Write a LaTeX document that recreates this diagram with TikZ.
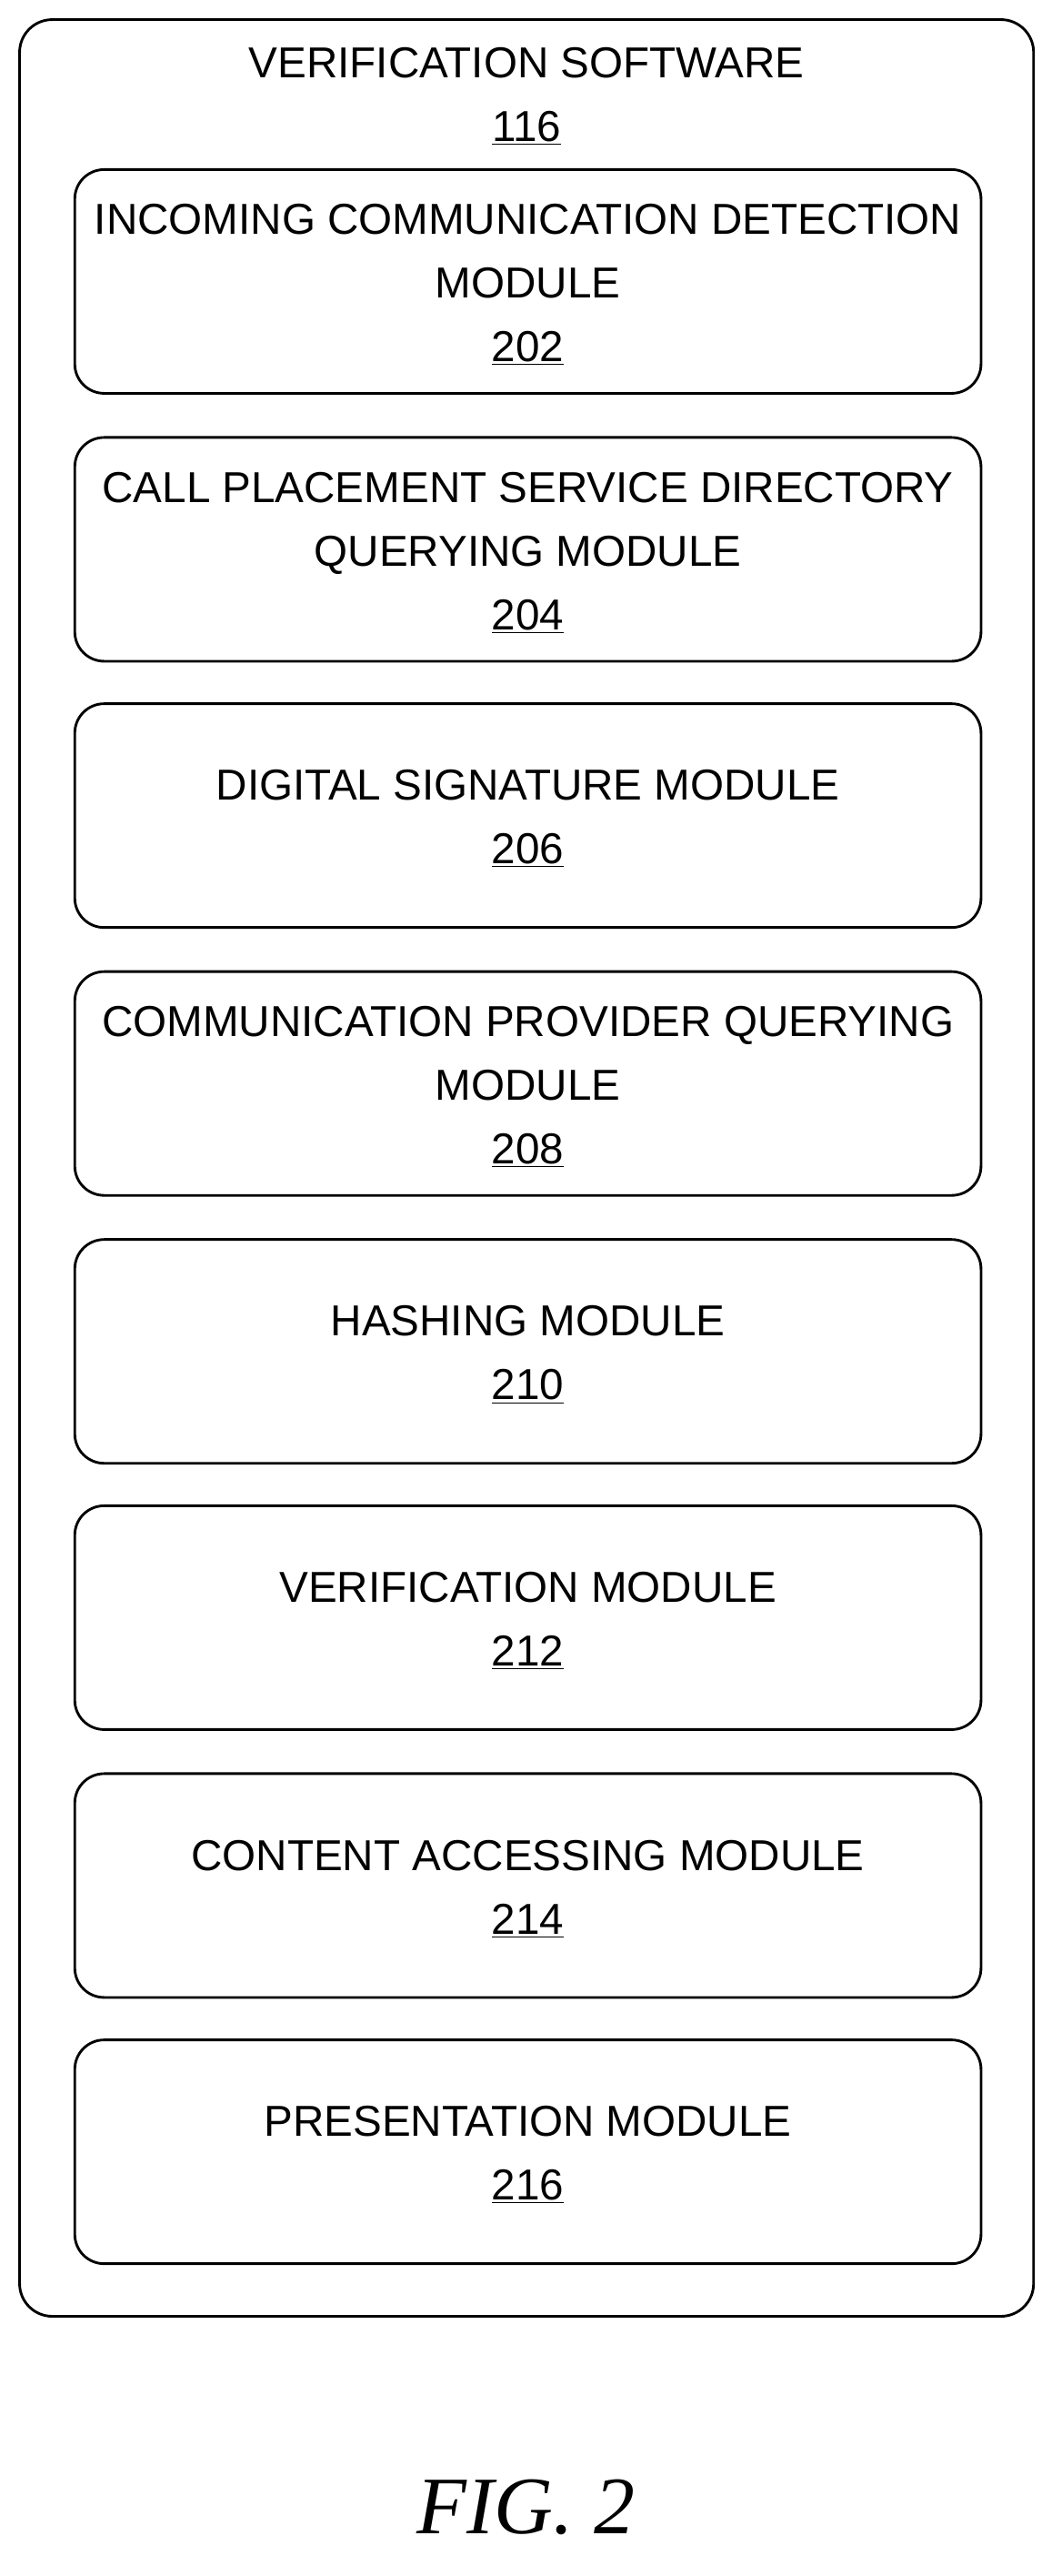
\documentclass[tikz,border=0pt]{standalone}
\usepackage{fontspec}
\setmainfont{Liberation Sans}
\newfontfamily\figfont{Liberation Serif}
\begin{document}
\begin{tikzpicture}[x=1pt,y=-1pt,
  modbox/.style={draw,line width=1.6pt,rounded corners=18pt,minimum width=555pt,minimum height=137pt,anchor=north west,inner sep=0pt},
  lbl/.style={font=\fontsize{26.5}{39}\selectfont,align=center}]
\useasboundingbox (0,0) rectangle (650,1577);
\draw[line width=1.6pt,rounded corners=20pt] (12,12) rectangle (633,1418);
\node[lbl] (title) at (322.5,59) {VERIFICATION SOFTWARE\\\underline{116}};
\foreach \i/\y/\t in {1/103/{INCOMING COMMUNICATION DETECTION\\MODULE\\\underline{202}},
  2/267/{CALL PLACEMENT SERVICE DIRECTORY\\QUERYING MODULE\\\underline{204}},
  3/430/{DIGITAL SIGNATURE MODULE\\\underline{206}},
  4/594/{COMMUNICATION PROVIDER QUERYING\\MODULE\\\underline{208}},
  5/758/{HASHING MODULE\\\underline{210}},
  6/921/{VERIFICATION MODULE\\\underline{212}},
  7/1085/{CONTENT ACCESSING MODULE\\\underline{214}},
  8/1248/{PRESENTATION MODULE\\\underline{216}}}{
  \node[modbox] (m\i) at (45,\y) {};
  \node[lbl] (t\i) at ([yshift=-2pt]m\i.center) {\t};
}
\node[font=\figfont\itshape\fontsize{50}{50}\selectfont] (fig) at (322,1535) {FIG. 2};
\end{tikzpicture}
\end{document}
